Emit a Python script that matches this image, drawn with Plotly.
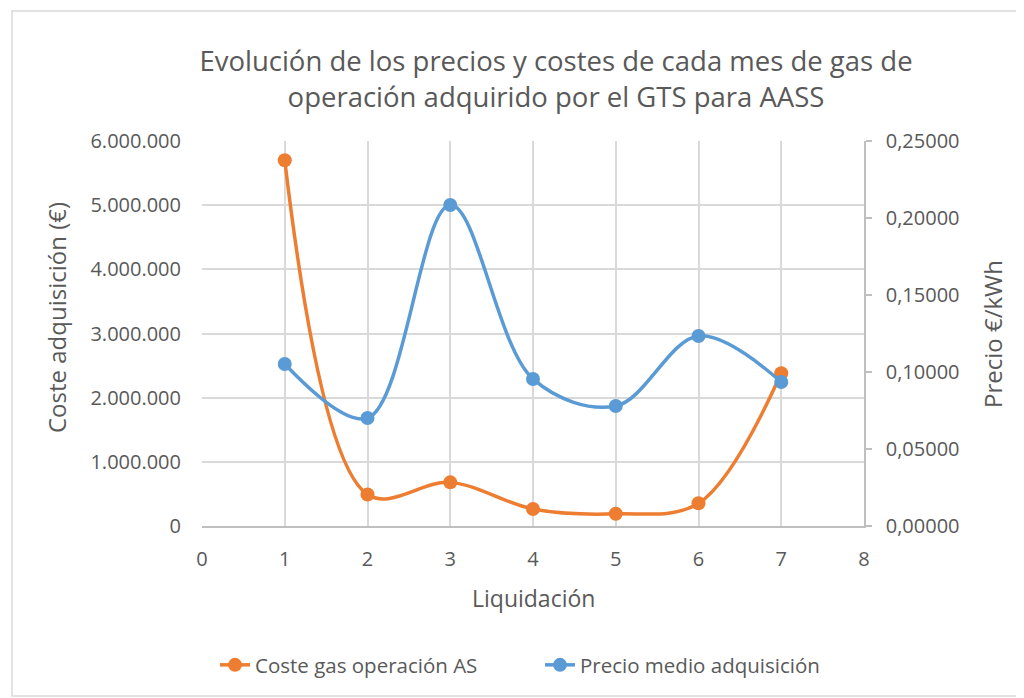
import plotly.graph_objects as go

liquidacion = [1, 2, 3, 4, 5, 6, 7]
coste = [5700000, 490000, 680000, 265000, 190000, 355000, 2380000]
precio = [0.1052, 0.0701, 0.2084, 0.0955, 0.0779, 0.1234, 0.0935]

title_text = "Evolución de los precios y costes de cada mes de gas de<br>operación adquirido por el GTS para AASS"
FONT = "'Open Sans', sans-serif"
GRAY = "#595959"
GRID = "#D9D9D9"

fig = go.Figure()
fig.add_trace(go.Scatter(
    x=liquidacion, y=coste, name="Coste gas operación AS",
    mode="lines+markers", line=dict(color="#ED7D31", width=3.5, shape="spline", smoothing=1),
    marker=dict(color="#ED7D31", size=14), yaxis="y"))
fig.add_trace(go.Scatter(
    x=liquidacion, y=precio, name="Precio medio adquisición",
    mode="lines+markers", line=dict(color="#5B9BD5", width=3.5, shape="spline", smoothing=1),
    marker=dict(color="#5B9BD5", size=14), yaxis="y2"))

OFF = 8  # page body margin
W, H = 1024 - OFF, 698 - OFF
L, R, T, B = 202, 864, 141, 526  # plot area in screen pixels
pw, ph = R - L, B - T

def px(x):
    return (x - L) / pw

def py(y):
    return (B - y) / ph

fig.update_layout(
    width=W, height=H,
    margin=dict(l=L - OFF, r=W - (R - OFF), t=T - OFF, b=H - (B - OFF), autoexpand=False),
    paper_bgcolor="white", plot_bgcolor="white",
    separators=",.",
    font=dict(family=FONT, color=GRAY, size=20),
    title=dict(text=title_text, x=(556 - OFF) / W, xanchor="center", y=1 - (71 - OFF) / H, yanchor="middle",
               font=dict(size=27.5, color=GRAY, family=FONT)),
    showlegend=True,
    legend=dict(orientation="h", x=px(540), xanchor="center", y=py(665), yanchor="middle",
                font=dict(size=20.5, color=GRAY), bgcolor="rgba(0,0,0,0)",
                entrywidth=280, entrywidthmode="pixels"),
    xaxis=dict(range=[0, 8], dtick=1, tick0=0, showgrid=True, gridcolor=GRID, gridwidth=1.5,
               zeroline=False, showline=True, linecolor="#BFBFBF", linewidth=1.5,
               ticks="", ticklabelstandoff=14, tickfont=dict(size=20, color=GRAY)),
    yaxis=dict(range=[0, 6000000], dtick=1000000, tickformat=",d", showgrid=True, gridcolor=GRID,
               gridwidth=1.5, zeroline=False, showline=False, ticks="", ticklabelstandoff=20,
               tickfont=dict(size=20, color=GRAY)),
    yaxis2=dict(range=[0, 0.25], dtick=0.05, tickformat=".5f", overlaying="y", side="right",
                showgrid=False, zeroline=False, showline=True, linecolor="#BFBFBF", linewidth=1.5,
                ticks="outside", ticklen=6, tickcolor="#BFBFBF", tickwidth=1.5, ticklabelstandoff=10,
                tickfont=dict(size=20, color=GRAY)),
    shapes=[dict(type="rect", xref="paper", yref="paper",
                 x0=px(12), x1=px(1022), y0=py(696), y1=py(11),
                 line=dict(color="#D9D9D9", width=1.5), fillcolor="rgba(0,0,0,0)", layer="below")],
    annotations=[
        dict(text="Coste adquisición (€)", xref="paper", yref="paper", x=px(56), y=py(318),
             showarrow=False, textangle=-90, font=dict(size=24, color=GRAY), xanchor="center", yanchor="middle"),
        dict(text="Precio €/kWh", xref="paper", yref="paper", x=px(992), y=py(334),
             showarrow=False, textangle=-90, font=dict(size=24, color=GRAY), xanchor="center", yanchor="middle"),
        dict(text="Liquidación", xref="paper", yref="paper", x=px(533), y=py(598),
             showarrow=False, font=dict(size=23, color=GRAY), xanchor="center", yanchor="middle"),
    ],
)

fig.write_html("out.html")
